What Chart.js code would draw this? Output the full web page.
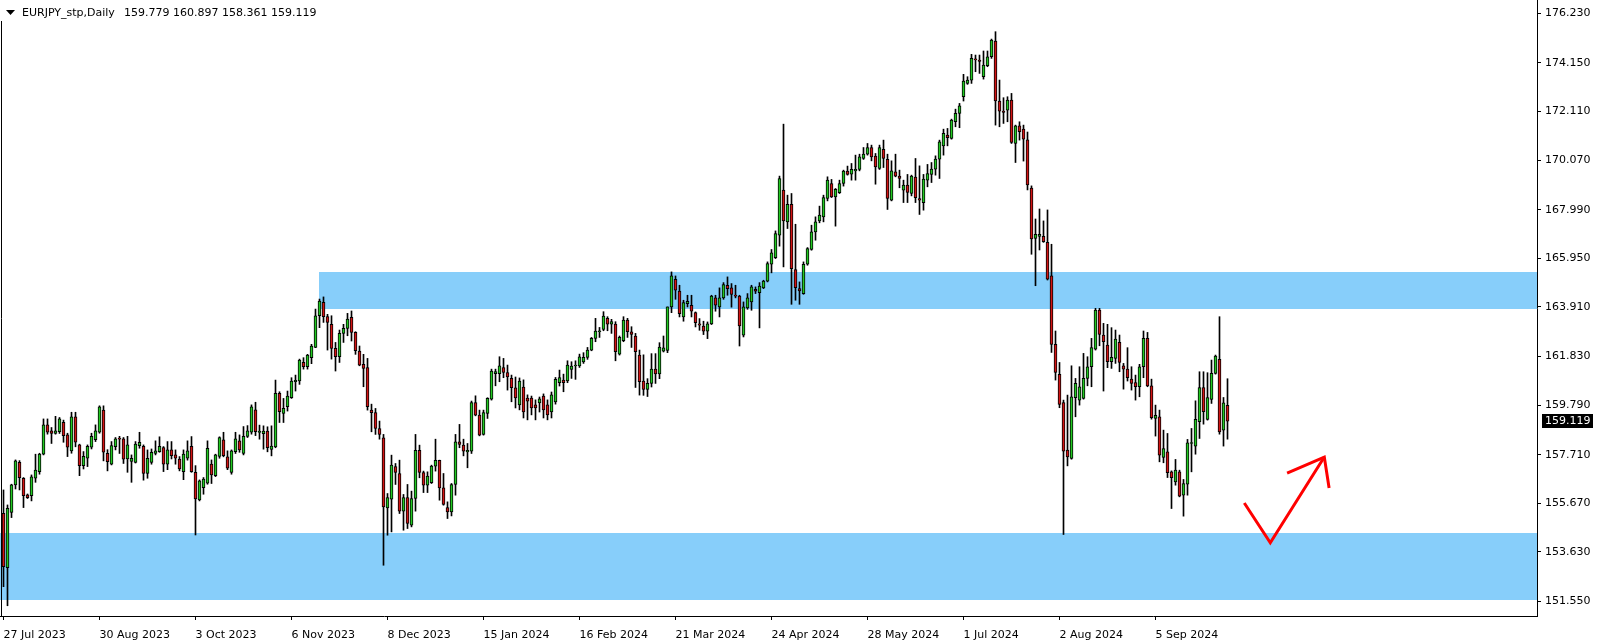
<!DOCTYPE html>
<html>
<head>
<meta charset="utf-8">
<title>EURJPY_stp,Daily</title>
<script src="https://cdn.jsdelivr.net/npm/chart.js@4.4.1/dist/chart.umd.min.js"></script>
<style>
  html, body { margin: 0; padding: 0; background: #ffffff; }
  #wrap { width: 1604px; height: 644px; }
</style>
</head>
<body>
<div id="wrap"><canvas id="eurjpyChart" width="1604" height="644"></canvas></div>
<script>
const SYMBOL_TITLE = "EURJPY_stp,Daily";

// daily bars, oldest first (index 0 = 27 Jul 2023)
const OPEN = [
  155.25,152.97,155.29,156.44,157.39,156.72,156.02,155.99,156.72,157.00,
  157.73,158.96,158.71,158.60,158.68,159.07,158.54,157.87,159.30,158.12,
  157.25,157.56,158.02,158.34,158.65,159.58,157.77,157.31,158.05,158.37,
  158.37,157.53,157.43,157.39,158.09,158.06,156.92,157.39,157.76,157.84,
  158.01,157.31,157.91,157.70,157.53,157.00,157.56,158.06,156.97,155.81,
  156.33,156.51,157.31,156.83,157.64,158.33,157.62,156.97,157.84,158.29,
  157.76,158.48,158.65,159.59,158.64,158.59,158.70,157.93,158.04,160.28,
  159.44,159.72,160.10,160.77,160.80,161.58,161.40,161.78,162.21,163.54,
  164.10,163.51,163.18,162.17,161.82,162.80,163.01,163.47,162.84,162.06,
  161.50,161.37,159.58,159.48,158.81,158.42,155.48,155.84,157.21,156.92,
  155.34,155.91,154.75,155.87,157.89,156.96,156.43,156.54,157.23,157.47,
  156.32,155.49,155.31,156.46,158.25,158.11,157.83,157.86,159.90,159.37,
  158.56,159.44,160.04,161.11,161.11,161.36,161.16,160.91,160.51,159.80,
  160.55,160.09,160.09,159.80,159.88,160.17,159.80,159.50,159.92,160.73,
  160.84,160.81,161.29,161.43,161.43,161.60,161.79,162.10,162.59,162.87,
  162.97,163.43,163.19,163.19,161.93,162.49,163.36,162.87,162.69,161.89,
  160.80,160.45,160.70,161.30,161.10,162.05,162.09,163.91,165.07,164.57,
  163.49,164.05,163.98,163.67,163.20,163.11,162.89,163.20,164.29,163.91,
  164.29,164.82,164.71,164.40,164.37,162.72,163.87,164.12,164.65,164.51,
  164.71,164.99,165.70,165.98,166.92,168.81,167.48,168.22,165.48,164.68,
  164.47,165.70,166.32,167.06,167.52,167.69,168.46,169.09,168.53,168.70,
  169.09,169.61,169.48,169.62,169.68,170.14,170.32,170.60,170.24,169.72,
  170.52,170.10,168.39,169.58,169.40,168.81,169.02,168.67,169.36,168.46,
  168.29,169.23,169.47,169.69,170.11,170.67,171.12,170.98,171.68,172.03,
  172.73,173.29,173.43,174.31,174.27,173.57,174.03,174.41,175.07,172.55,
  172.13,172.17,172.59,170.77,171.51,171.37,170.92,168.90,166.79,166.87,
  166.87,166.62,165.21,162.34,161.08,159.90,157.90,157.55,160.10,160.00,
  160.07,160.91,161.40,162.14,163.78,162.73,162.31,161.61,161.75,162.42,
  161.44,161.30,160.88,160.74,160.56,161.40,162.59,160.60,159.23,159.30,
  157.59,157.83,156.99,156.57,156.99,156.01,156.47,158.18,158.07,159.09,
  160.53,159.19,160.03,161.12,161.71,158.74,159.779
];

const HIGH = [
  156.23,155.60,156.47,157.49,157.46,156.75,156.06,156.86,157.73,157.77,
  159.21,159.21,158.85,159.32,159.27,159.16,158.61,159.49,159.49,158.15,
  157.84,158.12,158.61,158.96,159.76,159.76,157.92,158.26,158.43,158.48,
  158.43,158.48,157.70,158.26,158.65,158.12,157.91,157.95,158.29,158.46,
  158.05,158.26,158.26,157.91,157.63,157.91,158.29,158.47,157.25,156.65,
  156.75,158.29,157.49,157.73,158.46,158.65,157.87,157.91,158.65,158.54,
  158.89,158.93,159.80,159.91,158.95,158.92,158.88,158.92,160.84,160.35,
  160.07,160.38,160.94,161.05,161.72,161.78,161.92,162.34,163.82,164.24,
  164.33,163.60,163.54,162.42,162.94,163.18,163.64,163.74,162.87,162.27,
  161.92,161.75,159.83,159.65,159.12,158.56,156.08,157.69,157.34,157.48,
  156.04,156.46,156.18,158.56,158.11,157.02,156.99,157.27,158.36,157.48,
  156.92,155.73,156.50,158.56,158.98,158.36,158.18,159.96,160.18,159.58,
  159.58,160.10,161.30,161.30,161.82,161.75,161.47,161.05,160.97,160.93,
  160.85,160.22,160.17,160.01,160.13,160.26,160.01,160.34,160.95,161.26,
  161.09,161.65,161.61,161.65,161.93,161.99,162.21,162.63,163.43,163.05,
  163.71,163.50,163.39,163.29,162.69,163.50,163.43,163.08,162.80,162.10,
  161.90,160.90,161.95,161.95,162.41,162.69,163.91,165.38,165.21,164.82,
  164.19,164.40,164.40,163.70,163.42,163.31,163.28,164.40,164.40,164.71,
  164.93,165.17,164.89,164.82,164.40,164.12,164.47,164.82,164.75,164.93,
  165.03,165.80,166.32,167.10,169.40,171.58,168.60,168.67,167.38,164.96,
  165.80,166.40,167.34,167.69,168.14,168.60,169.37,169.26,168.88,169.23,
  169.65,169.82,169.93,170.28,170.32,170.60,170.77,170.70,170.35,170.70,
  170.91,170.32,170.04,170.32,169.65,169.23,169.47,169.44,170.14,169.83,
  169.47,169.89,169.97,170.25,170.91,171.37,171.40,171.79,172.21,172.45,
  173.67,173.57,174.51,174.48,174.48,174.65,174.65,175.15,175.46,173.43,
  172.69,172.73,172.87,171.54,171.68,171.54,171.25,168.99,167.60,168.02,
  167.52,167.98,166.54,162.90,161.58,160.00,160.21,161.44,160.91,161.40,
  161.96,161.82,162.59,163.85,163.85,163.22,163.18,163.04,162.94,162.73,
  161.54,162.20,161.40,161.05,161.50,162.90,162.84,160.88,159.79,159.58,
  158.74,158.60,157.03,157.51,157.06,156.67,158.35,158.81,159.97,161.19,
  161.19,161.15,161.68,161.89,163.50,160.11,160.897
];

const LOW = [
  152.17,151.37,155.07,156.27,156.23,155.49,155.87,155.77,156.55,156.89,
  157.70,158.57,158.18,158.57,158.60,158.23,157.63,157.77,158.04,156.83,
  157.11,157.21,157.95,158.26,158.61,157.45,157.03,157.28,157.91,157.76,
  157.34,156.97,156.55,157.36,157.98,156.64,156.72,157.31,157.70,157.81,
  157.00,157.08,157.53,157.31,157.03,156.66,157.48,156.97,154.34,155.77,
  156.05,156.47,156.50,156.79,157.56,157.62,157.08,156.89,157.76,157.81,
  157.70,158.43,158.57,158.51,158.36,157.94,157.83,157.66,158.00,159.06,
  159.06,159.54,160.07,160.38,160.66,161.30,161.30,161.53,162.20,163.04,
  163.26,162.10,161.72,161.22,161.58,162.42,162.70,162.48,161.92,161.44,
  160.56,159.58,158.67,158.56,158.36,153.07,154.33,154.47,156.46,155.24,
  154.54,154.61,154.68,155.34,156.74,156.12,156.12,156.50,157.02,155.80,
  155.59,155.03,155.14,156.01,158.00,157.66,157.16,157.76,159.34,158.50,
  158.53,159.23,160.00,160.60,160.77,160.94,160.42,159.93,159.67,159.59,
  159.25,159.17,159.38,159.17,159.50,159.25,159.17,159.25,159.83,160.59,
  160.35,160.73,160.91,160.87,161.37,161.54,161.71,162.07,162.45,162.63,
  162.91,162.91,162.80,161.65,161.89,162.45,162.63,162.21,160.53,160.21,
  160.20,160.15,160.55,160.70,160.90,162.02,161.99,163.67,164.23,163.49,
  163.31,163.91,163.49,163.07,162.93,162.75,162.58,163.17,163.73,163.49,
  164.23,164.40,163.90,164.29,162.27,162.65,163.81,163.77,164.47,163.03,
  164.68,164.96,165.34,165.94,166.46,165.59,167.20,164.02,164.19,164.02,
  164.44,165.66,166.29,166.71,167.44,167.48,168.36,168.50,167.30,168.67,
  168.98,169.44,169.23,169.23,169.62,170.10,170.28,170.04,169.06,169.68,
  169.76,168.00,168.36,169.37,168.91,168.29,168.29,168.57,168.29,167.79,
  167.97,168.95,169.13,169.44,169.30,170.28,170.67,170.95,171.47,171.43,
  172.55,173.25,173.29,173.78,173.71,173.47,173.99,174.34,171.54,171.47,
  171.61,171.68,170.77,169.97,170.91,170.03,168.82,166.12,164.80,166.30,
  166.62,165.04,162.00,160.84,159.68,154.36,157.24,157.52,159.30,159.79,
  160.04,160.60,160.56,162.10,162.28,160.38,161.36,161.33,161.54,161.19,
  160.46,160.80,160.42,160.00,160.14,160.94,160.56,159.20,158.49,157.41,
  157.37,156.75,155.45,156.43,155.94,155.13,156.01,156.99,157.73,158.39,
  158.99,159.16,159.86,161.09,158.57,158.07,158.361
];

const CLOSE = [
  153.01,155.46,156.44,157.45,156.75,155.99,155.91,156.78,157.06,157.73,
  158.96,158.65,158.60,158.71,159.21,158.51,158.02,159.30,158.23,157.25,
  157.64,158.06,158.48,158.71,159.72,157.81,157.42,158.09,158.37,158.36,
  157.52,158.12,157.56,158.15,158.23,156.92,157.56,157.81,157.87,158.06,
  157.31,157.91,157.67,157.56,157.11,157.73,157.87,157.00,155.85,156.61,
  156.69,157.98,156.86,157.70,158.43,157.67,157.14,157.87,158.37,157.91,
  158.48,158.71,159.72,158.68,158.70,158.70,158.00,158.07,160.28,159.51,
  159.65,160.17,160.80,160.83,161.68,161.40,161.89,162.27,163.54,164.16,
  163.50,163.26,162.17,161.82,162.80,163.01,163.40,162.84,162.07,161.47,
  161.33,159.72,159.47,158.81,158.56,155.52,155.91,157.27,156.96,155.34,
  155.91,154.82,155.87,157.89,156.96,156.43,156.81,157.23,157.47,156.32,
  155.62,155.31,156.46,158.25,158.14,157.86,157.89,159.90,159.37,158.53,
  159.48,160.07,161.22,161.20,161.44,161.16,160.97,160.52,160.09,160.80,
  159.50,159.96,159.67,159.67,160.05,159.59,159.38,160.22,160.87,160.95,
  160.73,161.47,161.43,161.47,161.82,161.79,162.10,162.59,162.90,162.90,
  163.53,163.19,163.29,162.03,162.63,163.36,162.87,162.76,162.03,160.77,
  160.45,160.70,161.30,161.10,162.23,162.19,163.91,165.21,164.61,163.63,
  164.09,164.15,163.73,163.25,163.14,162.89,163.20,164.37,163.98,164.29,
  164.85,164.68,164.43,164.36,163.11,163.91,164.29,164.75,164.57,164.79,
  164.99,165.73,166.18,166.99,169.30,167.52,168.22,165.52,164.72,164.58,
  165.70,166.36,167.06,167.48,167.76,168.50,169.23,168.53,168.84,169.09,
  169.61,169.47,169.68,169.68,170.21,170.32,170.60,170.21,169.79,170.60,
  170.14,168.46,169.62,169.40,169.30,169.02,168.71,169.40,168.49,168.39,
  169.27,169.51,169.69,170.11,170.84,171.19,171.01,171.75,172.03,172.35,
  173.39,173.43,174.34,174.28,174.21,174.06,174.41,175.11,172.55,172.13,
  172.07,172.59,170.81,171.51,171.26,170.95,169.03,166.76,166.96,166.96,
  166.65,165.08,162.34,161.16,159.82,157.86,157.62,160.14,160.70,160.56,
  160.91,161.40,162.20,163.78,162.76,162.45,161.61,161.79,162.56,161.58,
  161.30,160.94,160.70,160.56,161.40,162.59,160.60,159.26,159.36,157.69,
  157.97,156.95,156.75,157.06,155.97,156.50,158.21,158.21,159.19,160.53,
  159.51,160.11,161.12,161.85,158.67,159.89,159.119
];

const DATE_LABELS = [
  "27 Jul 2023", "30 Aug 2023", "3 Oct 2023", "6 Nov 2023", "8 Dec 2023",
  "15 Jan 2024", "16 Feb 2024", "21 Mar 2024", "24 Apr 2024", "28 May 2024",
  "1 Jul 2024", "2 Aug 2024", "5 Sep 2024"
];
const DATE_TICK_INDEX = [0, 24, 48, 72, 96, 120, 144, 168, 192, 216, 240, 264, 288];

const PRICE_TICKS = [
  176.230, 174.150, 172.110, 170.070, 167.990, 165.950, 163.910,
  161.830, 159.790, 157.710, 155.670, 153.630, 151.550
];

// support / resistance boxes (bar index where they start, price top, price bottom)
const ZONE_START = [78.9, null];
const ZONE_TOP = [165.38, 154.44];
const ZONE_BOTTOM = [163.84, 151.63];

// hand-drawn red arrow, in bar index / price units
const ARROW_X = [310.2, 316.7, 330.2];
const ARROW_Y = [155.68, 154.01, 157.61];
const ARROW_HEAD_X = [320.9, 330.2, 331.4];
const ARROW_HEAD_Y = [156.94, 157.61, 156.31];

const COLORS = {
  up: "#22c922",
  down: "#d21414",
  outline: "#000000",
  zone: "#87cefa",
  arrow: "#ff0000",
  text: "#000000"
};

const FONT_FAMILY = "'DejaVu Sans', Verdana, sans-serif";

const lastIndex = CLOSE.length - 1;

function isUp(i) {
  return CLOSE[i] >= OPEN[i];
}

function wickData() {
  return HIGH.map((high, i) => ({ x: i, y: [LOW[i], high] }));
}

function bodyData() {
  return OPEN.map((open, i) => ({
    x: i,
    y: [Math.min(open, CLOSE[i]), Math.max(open, CLOSE[i])]
  }));
}

function pairs(xs, ys) {
  return xs.map((x, i) => ({ x, y: ys[i] }));
}

const zonePlugin = {
  id: "zones",
  beforeDatasetsDraw(chart) {
    const { ctx, chartArea, scales } = chart;
    ctx.save();
    ctx.fillStyle = COLORS.zone;
    ZONE_TOP.forEach((top, i) => {
      const left = ZONE_START[i] === null
        ? chartArea.left
        : Math.round(scales.x.getPixelForValue(ZONE_START[i]));
      const y1 = Math.round(scales.y.getPixelForValue(top));
      const y2 = Math.round(scales.y.getPixelForValue(ZONE_BOTTOM[i]));
      ctx.fillRect(left, y1, chartArea.right - left, y2 - y1);
    });
    ctx.restore();
  }
};

const framePlugin = {
  id: "frame",
  afterDraw(chart) {
    const { ctx, chartArea, scales } = chart;
    ctx.save();

    // left window edge, it stops under the caption
    ctx.strokeStyle = COLORS.outline;
    ctx.lineWidth = 1;
    ctx.beginPath();
    ctx.moveTo(1.5, 21);
    ctx.lineTo(1.5, chartArea.bottom);
    ctx.stroke();

    // caption
    ctx.fillStyle = COLORS.text;
    ctx.beginPath();
    ctx.moveTo(6, 10);
    ctx.lineTo(15, 10);
    ctx.lineTo(10.5, 15);
    ctx.closePath();
    ctx.fill();

    ctx.font = `11px ${FONT_FAMILY}`;
    ctx.textBaseline = "alphabetic";
    ctx.textAlign = "left";
    ctx.fillText(SYMBOL_TITLE, 22, 16);
    const ohlc = [OPEN, HIGH, LOW, CLOSE]
      .map(series => series[lastIndex].toFixed(3))
      .join(" ");
    ctx.fillText(ohlc, 124, 16);

    // current price marker on the price scale
    const y = Math.round(scales.y.getPixelForValue(CLOSE[lastIndex]));
    ctx.fillRect(chartArea.right + 5, y - 7, 51, 14);
    ctx.fillStyle = "#ffffff";
    ctx.textBaseline = "middle";
    ctx.fillText(CLOSE[lastIndex].toFixed(3), chartArea.right + 8, y);

    ctx.restore();
  }
};

Chart.defaults.font.family = FONT_FAMILY;
Chart.defaults.font.size = 11;
Chart.defaults.color = COLORS.text;

const canvas = document.getElementById("eurjpyChart");

new Chart(canvas.getContext("2d"), {
  type: "bar",
  data: {
    datasets: [
      {
        label: "wick",
        data: wickData(),
        backgroundColor: COLORS.outline,
        borderWidth: 0,
        barThickness: 1,
        grouped: false,
        order: 3
      },
      {
        label: "body",
        data: bodyData(),
        backgroundColor: ctx => (isUp(ctx.dataIndex) ? COLORS.up : COLORS.down),
        borderColor: COLORS.outline,
        borderWidth: 1,
        borderSkipped: false,
        minBarLength: 1,
        barThickness: 3,
        grouped: false,
        order: 2
      },
      {
        type: "line",
        label: "arrow",
        data: pairs(ARROW_X, ARROW_Y),
        borderColor: COLORS.arrow,
        borderWidth: 3,
        borderJoinStyle: "miter",
        pointRadius: 0,
        fill: false,
        tension: 0,
        order: 1
      },
      {
        type: "line",
        label: "arrow head",
        data: pairs(ARROW_HEAD_X, ARROW_HEAD_Y),
        borderColor: COLORS.arrow,
        borderWidth: 3,
        borderJoinStyle: "miter",
        pointRadius: 0,
        fill: false,
        tension: 0,
        order: 1
      }
    ]
  },
  options: {
    responsive: false,
    animation: false,
    devicePixelRatio: 1,
    layout: { padding: 0 },
    events: [],
    plugins: {
      legend: { display: false },
      tooltip: { enabled: false },
      title: { display: false }
    },
    scales: {
      x: {
        type: "linear",
        min: -0.875,
        max: 383.375,
        offset: false,
        grid: {
          offset: false,
          drawOnChartArea: false,
          drawTicks: true,
          tickLength: 4,
          color: COLORS.outline
        },
        border: { display: true, color: COLORS.outline },
        ticks: {
          align: "start",
          padding: 9,
          maxRotation: 0,
          autoSkip: false,
          color: COLORS.text,
          callback: (value, index) => DATE_LABELS[index]
        },
        afterBuildTicks: scale => {
          scale.ticks = DATE_TICK_INDEX.map(value => ({ value }));
        },
        afterFit: scale => {
          scale.height = 28;
          scale.paddingLeft = 0;
          scale.paddingRight = 0;
        }
      },
      y: {
        position: "right",
        min: 150.94,
        max: 176.79,
        grid: {
          drawOnChartArea: false,
          drawTicks: true,
          tickLength: 4,
          color: COLORS.outline
        },
        border: { display: true, color: COLORS.outline },
        ticks: {
          padding: 4,
          color: COLORS.text,
          callback: value => Number(value).toFixed(3)
        },
        afterBuildTicks: scale => {
          scale.ticks = PRICE_TICKS.map(value => ({ value }));
        },
        afterFit: scale => {
          scale.width = 67;
          scale.paddingTop = 0;
          scale.paddingBottom = 0;
        }
      }
    }
  },
  plugins: [zonePlugin, framePlugin]
});
</script>
</body>
</html>
